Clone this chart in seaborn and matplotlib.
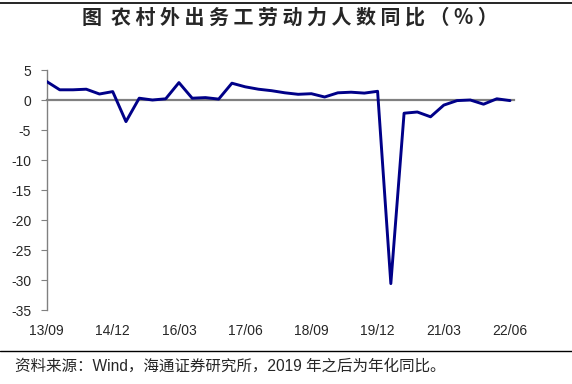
import matplotlib
matplotlib.use("Agg")
import matplotlib.pyplot as plt
from matplotlib.lines import Line2D
import seaborn as sns
import pandas as pd

# quarterly yoy growth of rural migrant workers (%)
quarters = [str(p) for p in pd.period_range("2013Q3", "2022Q2", freq="Q")]
yoy = [3.1, 1.7, 1.7, 1.8, 1.0, 1.4, -3.6, 0.3, 0.0, 0.2,
       2.9, 0.3, 0.4, 0.15, 2.8, 2.2, 1.8, 1.55, 1.2, 0.95,
       1.05, 0.5, 1.2, 1.3, 1.15, 1.45, -30.6, -2.2, -2.0, -2.8,
       -0.85, -0.1, 0.0, -0.7, 0.2, -0.1]
tick_pos = [0, 5, 10, 15, 20, 25, 30, 35]
tick_labels = ["13/09", "14/12", "16/03", "17/06", "18/09", "19/12", "21/03", "22/06"]
y_ticks = [5, 0, -5, -10, -15, -20, -25, -30, -35]

title = "图  农 村 外 出 务 工 劳 动 力 人 数 同 比 （ % ）"
source = "资料来源：Wind，海通证券研究所，2019 年之后为年化同比。"

sns.set_style("white")
plt.rcParams["font.family"] = ["Liberation Sans", "Noto Sans CJK SC"]
plt.rcParams["axes.unicode_minus"] = False

df = pd.DataFrame({"idx": range(len(yoy)), "quarter": quarters, "yoy": yoy})

fig = plt.figure(figsize=(5.72, 3.84), dpi=100)
ax = fig.add_axes([0.0813, 0.1927, 0.8173, 0.625])

sns.lineplot(data=df, x="idx", y="yoy", ax=ax, color="#000088", linewidth=2.1,
             solid_capstyle="round", zorder=3)

ax.set_xlim(0, 35.3)
ax.set_ylim(-35, 5)
ax.set_yticks(y_ticks)
ax.set_xlabel("")
ax.set_ylabel("")

for s in ["top", "right"]:
    ax.spines[s].set_visible(False)
ax.spines["left"].set_color("#808080")
ax.spines["left"].set_linewidth(1.0)
ax.spines["bottom"].set_position(("data", 0))
ax.spines["bottom"].set_color("#808080")
ax.spines["bottom"].set_linewidth(1.6)
ax.spines["bottom"].set_zorder(2)

ax.set_xticks(tick_pos)
ax.tick_params(axis="x", direction="out", length=4, width=0.8, color="#333333",
               labelbottom=False)
ax.tick_params(axis="y", direction="out", length=4, width=0.8, color="#808080",
               labelsize=10, pad=7, left=True)

sec = ax.secondary_xaxis("bottom")
sec.set_xticks(tick_pos, tick_labels)
sec.spines["bottom"].set_visible(False)
sec.tick_params(length=0, labelsize=10, pad=10)

fig.add_artist(Line2D([0, 1], [1 - 3 / 384, 1 - 3 / 384], transform=fig.transFigure,
                      color="black", linewidth=1.2))
fig.add_artist(Line2D([0, 1], [1 - 351 / 384, 1 - 351 / 384], transform=fig.transFigure,
                      color="black", linewidth=1.0))

fig.text(0.507, 1 - 17 / 384, title, ha="center", va="center", fontsize=14.4,
         fontweight="bold", family=["Noto Sans CJK SC", "DejaVu Sans"])
fig.text(15 / 572, 1 - 366 / 384, source, ha="left", va="center", fontsize=11.2)

fig.savefig("out.png", dpi=100)
